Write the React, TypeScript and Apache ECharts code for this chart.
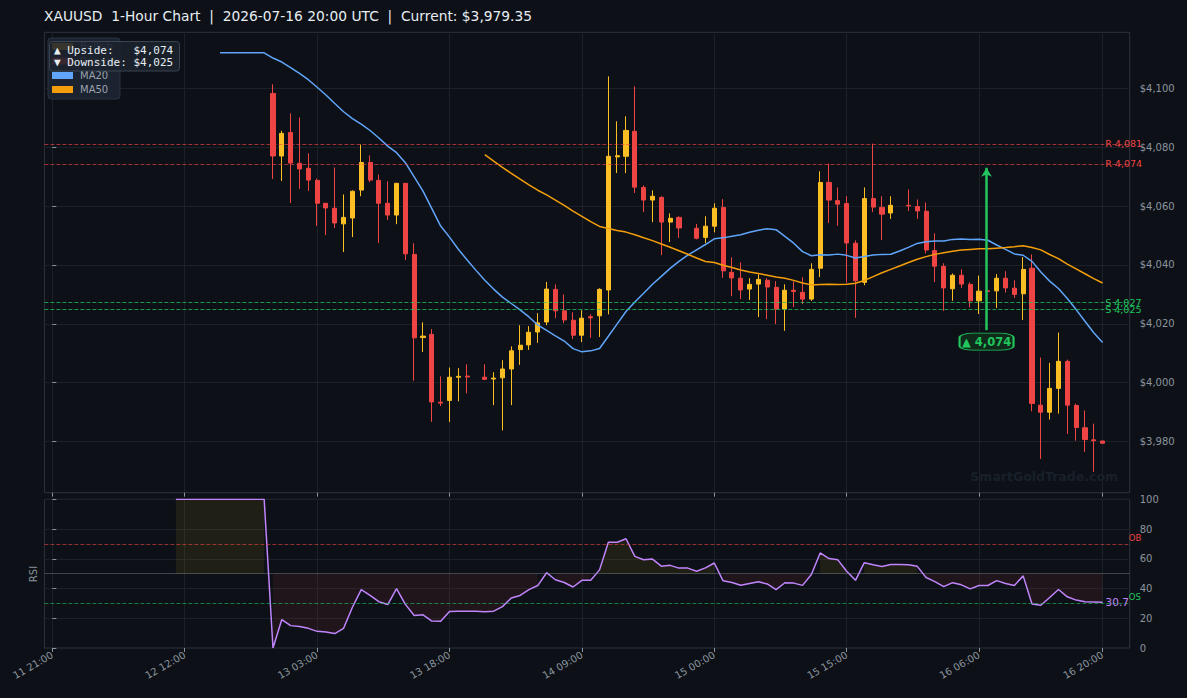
import React, { useEffect, useRef } from 'react';
import * as echarts from 'echarts';

const tickIdx = [0, 15, 30, 45, 60, 75, 90, 105, 119];
const tickLabels = ['11 21:00', '12 12:00', '13 03:00', '13 18:00', '14 09:00', '15 00:00', '15 15:00', '16 06:00', '16 20:00'];
const priceTicks = [3980, 4000, 4020, 4040, 4060, 4080, 4100];

// hourly closes, index 0 = 11 21:00
const closes = [
  4112.2, 4112.2, 4112.2, 4112.2, 4112.2, 4112.2, 4112.2, 4112.2, 4112.2, 4112.2,
  4112.2, 4112.2, 4112.2, 4112.2, 4112.2, 4112.2, 4112.2, 4112.2, 4112.2, 4112.2,
  4112.2, 4112.2, 4112.2, 4112.2, 4112.2, 4077.1, 4084.8, 4074.7, 4072.7, 4068.9,
  4061.0, 4059.4, 4054.3, 4056.2, 4065.1, 4074.9, 4068.9, 4061.0, 4057.0, 4067.8,
  4043.8, 4015.2, 4015.8, 3993.4, 3993.0, 4001.8, 4002.1, 4001.9, 4001.9, 4001.1,
  4001.5, 4004.6, 4010.8, 4012.7, 4017.1, 4020.3, 4031.8, 4024.4, 4021.3, 4016.1,
  4021.9, 4022.0, 4031.7, 4077.0, 4077.2, 4085.8, 4066.5, 4062.1, 4063.4, 4054.6,
  4055.9, 4052.6, 4052.6, 4049.1, 4053.2, 4059.3, 4038.0, 4035.6, 4031.5, 4033.4,
  4035.1, 4032.5, 4025.0, 4031.4, 4031.0, 4028.4, 4038.5, 4068.1, 4062.1, 4060.7,
  4047.5, 4034.6, 4062.6, 4059.7, 4057.3, 4060.3, 4060.3, 4060.1, 4058.4, 4045.1,
  4039.6, 4032.2, 4036.5, 4033.5, 4027.8, 4031.1, 4031.0, 4035.5, 4032.2, 4030.0,
  4038.5, 3992.9, 3989.9, 3998.0, 4007.2, 3992.3, 3984.7, 3980.6, 3980.2, 3979.35,
];
const N = null;
const opens = [
  N, N, N, N, N, N, N, N, N, N, N, N, N, N, N, N, N, N, N, N, N, N, N, N, N,
  4098.4, 4077.1, 4085.1, 4074.6, 4072.9,
  4068.8, 4061.0, 4059.3, 4054.0, 4056.0, 4065.5, 4074.9, 4068.8, 4061.0, 4057.0,
  4067.8, 4043.6, 4015.3, 4016.4, 3993.3, 3993.9, 4001.8, 4002.2, N, 4001.8,
  4001.2, 4001.6, 4004.6, 4011.2, 4012.8, 4017.2, 4020.6, 4031.7, 4024.4, 4021.2,
  4016.1, 4022.4, 4022.7, 4031.5, 4076.8, 4077.0, 4085.5, 4066.4, 4062.1, 4063.0,
  4054.6, 4056.2, N, 4052.5, 4049.4, 4053.2, 4059.6, 4037.5, 4035.5, 4031.8,
  4033.5, 4034.8, 4032.4, 4025.0, 4031.4, 4030.7, 4028.4, 4038.9, 4068.1, 4061.9,
  4060.9, 4047.4, 4034.1, 4062.6, 4059.6, 4057.7, N, 4060.3, 4059.9, 4058.3,
  4044.9, 4039.5, 4031.9, 4036.5, 4033.4, 4027.8, 4031.2, 4031.2, 4035.5, 4032.1,
  4030.2, 4038.9, 3992.3, 3989.9, 3998.0, 4007.2, 3992.2, 3984.6, 3980.5, 3980.1,
];
const highs = [
  N, N, N, N, N, N, N, N, N, N, N, N, N, N, N, N, N, N, N, N, N, N, N, N, N,
  4101.5, 4085.7, 4091.6, 4090.2, 4078.0,
  4069.4, 4061.0, 4073.2, 4064.0, 4065.4, 4081.0, 4077.3, 4070.8, 4068.5, 4067.8,
  4067.8, 4047.4, 4020.5, 4018.2, 4002.1, 4005.1, 4004.9, 4006.2, N, 4006.2,
  4003.5, 4007.6, 4012.3, 4019.5, 4019.2, 4023.6, 4034.2, 4033.4, 4030.0, 4023.9,
  4024.6, 4023.2, 4032.1, 4104.2, 4088.9, 4090.6, 4100.8, 4067.1, 4065.4, 4063.4,
  4057.6, 4056.6, N, 4054.0, 4056.6, 4061.0, 4062.4, 4042.6, 4040.9, 4035.5,
  4036.8, 4035.5, 4034.5, 4033.4, 4034.5, 4035.8, 4040.6, 4071.9, 4074.5, 4066.4,
  4063.4, 4048.4, 4066.4, 4081.3, 4063.4, 4063.4, N, 4065.7, 4062.3, 4061.3,
  4050.8, 4040.6, 4037.1, 4038.5, 4034.1, 4036.4, 4031.5, 4036.9, 4037.9, 4034.8,
  4042.7, 4043.6, 4008.5, 4006.7, 4017.0, 4007.8, 3992.8, 3990.5, 3986.0, 3980.1,
];
const lows = [
  N, N, N, N, N, N, N, N, N, N, N, N, N, N, N, N, N, N, N, N, N, N, N, N, N,
  4069.3, 4068.6, 4061.1, 4065.9, 4065.2,
  4053.3, 4050.2, 4052.6, 4044.4, 4049.5, 4063.4, 4068.2, 4047.5, 4055.3, 4053.9,
  4041.7, 4000.6, 4010.4, 3986.6, 3992.0, 3986.6, 3993.6, 3996.3, N, 4000.8,
  3992.3, 3983.7, 3992.3, 4006.0, 4011.1, 4013.5, 4019.5, 4021.9, 4020.2, 4014.8,
  4013.8, 4015.2, 4015.5, 4023.2, 4071.3, 4071.3, 4064.5, 4058.0, 4054.6, 4043.4,
  4047.8, 4049.2, N, 4048.7, 4047.4, 4051.1, 4035.6, 4029.4, 4028.4, 4028.1,
  4022.3, 4021.6, 4019.9, 4017.6, 4025.7, 4026.7, 4027.8, 4035.9, 4054.3, 4053.3,
  4034.0, 4022.0, 4033.1, 4058.0, 4048.5, 4055.7, N, 4058.4, 4055.7, 4044.0,
  4034.2, 4024.4, 4027.8, 4032.2, 4025.6, 4023.3, 4030.8, 4025.4, 4030.6, 4028.8,
  4021.3, 3990.2, 3974.0, 3987.4, 3989.4, 3982.5, 3980.2, 3976.4, 3969.6, 3979.1,
];

const resistance = [4081.2, 4074.4];
const resistanceLabels = ['R 4,081', 'R 4,074'];
const support = [4027.2, 4024.9];
const supportLabels = ['S 4,027', 'S 4,025'];
const upsideTarget = 4074;
const downsideTarget = 4025;
const arrowX = 105.85;
const arrowBase = 4017.8;

const BG = '#0d1117';
const GRIDC = '#1b2129';
const SPINE = '#2d333b';
const TXT = '#8b949e';
const FONT = 'DejaVu Sans';
const BULL = '#fbbf24';
const BEAR = '#ef4444';

function sma(c: number[], n: number) {
  return c.map((_, i) => {
    if (i < n - 1) return null;
    let s = 0;
    for (let k = i - n + 1; k <= i; k++) s += c[k];
    return s / n;
  });
}

function rsiWilder(c: number[], n: number) {
  const out: (number | null)[] = c.map(() => null);
  let ag = 0, al = 0;
  for (let i = 1; i < c.length; i++) {
    const d = c[i] - c[i - 1];
    const g = Math.max(d, 0), l = Math.max(-d, 0);
    if (i === 1) { ag = g; al = l; } else { ag = (ag * (n - 1) + g) / n; al = (al * (n - 1) + l) / n; }
    if (i >= n) out[i] = al === 0 ? 100 : 100 - 100 / (1 + ag / al);
  }
  return out;
}

const fmt = (v: number) => '$' + Math.round(v).toLocaleString('en-US');

export default function App() {
  const ref = useRef<HTMLDivElement>(null);
  useEffect(() => {
    if (!ref.current) return;
    const chart = echarts.init(ref.current, undefined, { renderer: 'svg' });
    const ma20 = sma(closes, 20);
    const ma50 = sma(closes, 50);
    const rsi = rsiWilder(closes, 14);
    const last = closes.length - 1;
    const rsiLast = rsi[last] as number;

    const candleData: any[] = [];
    closes.forEach((c, i) => {
      if (opens[i] != null) candleData.push([i, opens[i], c, lows[i], highs[i]]);
    });
    const pair = (arr: (number | null)[]) => arr.map((v, i) => [i, v]);

    const xBase = {
      type: 'value', min: -0.9, max: 122.07,
      axisLine: { show: false },
      axisTick: { show: true, customValues: tickIdx, length: 4, lineStyle: { color: TXT } },
      splitLine: { show: true, lineStyle: { color: GRIDC, width: 1 } },
    };

    const option: any = {
      animation: false,
      backgroundColor: BG,
      textStyle: { fontFamily: FONT },
      title: {
        text: 'XAUUSD  1-Hour Chart  |  2026-07-16 20:00 UTC  |  Current: $3,979.35',
        left: 44, top: 9, padding: 0,
        textStyle: { color: '#e6edf3', fontSize: 13.8, fontWeight: 'normal', fontFamily: FONT },
      },
      grid: [
        { left: 44.4, right: 57.3, top: 32.3, height: 460.4, show: true, borderColor: SPINE, borderWidth: 1, backgroundColor: 'transparent' },
        { left: 44.4, right: 57.3, top: 499.3, height: 148.7, show: true, borderColor: SPINE, borderWidth: 1, backgroundColor: 'transparent' },
      ],
      xAxis: [
        { ...xBase, gridIndex: 0, axisLabel: { show: false, customValues: tickIdx } },
        {
          ...xBase, gridIndex: 1,
          axisLabel: {
            show: true, customValues: tickIdx, rotate: 30, margin: 6, color: TXT, fontSize: 10, fontFamily: FONT,
            formatter: (v: number) => tickLabels[tickIdx.indexOf(Math.round(v))] ?? '',
          },
        },
      ],
      yAxis: [
        {
          type: 'value', gridIndex: 0, position: 'right', min: 3962.5, max: 4119.2,
          axisLine: { show: false },
          axisTick: { show: true, customValues: priceTicks, length: 4, lineStyle: { color: TXT } },
          axisLabel: { show: true, customValues: priceTicks, margin: 10, color: TXT, fontSize: 10, fontFamily: FONT, formatter: fmt },
          splitLine: { show: true, lineStyle: { color: GRIDC, width: 1 } },
        },
        {
          type: 'value', gridIndex: 1, position: 'right', min: 0, max: 100, interval: 20,
          axisLine: { show: false },
          axisTick: { show: true, length: 4, lineStyle: { color: TXT } },
          axisLabel: { show: true, margin: 10, color: TXT, fontSize: 10, fontFamily: FONT },
          splitLine: { show: true, lineStyle: { color: GRIDC, width: 1 } },
        },
      ],
      series: [
        {
          name: 'XAUUSD', type: 'candlestick', xAxisIndex: 0, yAxisIndex: 0,
          data: candleData, barWidth: 4.6,
          itemStyle: { color: BULL, color0: BEAR, borderColor: BULL, borderColor0: BEAR, borderWidth: 1 },
          markLine: {
            silent: true, symbol: ['none', 'none'], label: { show: false }, animation: false,
            data: [
              ...resistance.map((v) => ({ yAxis: v, lineStyle: { color: 'rgba(239,68,68,0.65)', type: [4, 2], width: 1 } })),
              ...support.map((v) => ({ yAxis: v, lineStyle: { color: 'rgba(34,197,94,0.75)', type: [4, 2], width: 1 } })),
              [
                { coord: [arrowX, arrowBase], symbol: 'none', lineStyle: { color: '#22c55e', width: 2.5, type: 'solid' } },
                { coord: [arrowX, upsideTarget - 0.9], symbol: 'arrow', symbolSize: [8, 9] },
              ],
            ],
          },
          markPoint: {
            silent: true, animation: false,
            data: [
              ...resistance.map((v, k) => ({
                coord: [119.3, v], symbol: 'circle', symbolSize: 0,
                label: { show: true, position: 'right', distance: 0, formatter: resistanceLabels[k], color: BEAR, fontSize: 9.5, fontFamily: FONT },
              })),
              ...support.map((v, k) => ({
                coord: [119.3, v], symbol: 'circle', symbolSize: 0,
                label: { show: true, position: 'right', distance: 0, formatter: supportLabels[k], color: '#22c55e', fontSize: 9.5, fontFamily: FONT },
              })),
              {
                coord: [arrowX, 4013.9], symbol: 'roundRect', symbolSize: [54, 17],
                itemStyle: { color: '#0f2a1b', borderColor: '#22c55e', borderWidth: 1.2 },
                label: { show: true, position: 'inside', formatter: '▲ ' + upsideTarget.toLocaleString('en-US'), color: '#22c55e', fontSize: 11.5, fontWeight: 'bold', fontFamily: FONT },
              },
            ],
          },
        },
        {
          name: 'MA20', type: 'line', xAxisIndex: 0, yAxisIndex: 0, data: pair(ma20),
          showSymbol: false, symbol: 'none', lineStyle: { color: '#60a5fa', width: 1.5 }, z: 3,
        },
        {
          name: 'MA50', type: 'line', xAxisIndex: 0, yAxisIndex: 0, data: pair(ma50),
          showSymbol: false, symbol: 'none', lineStyle: { color: '#f59e0b', width: 1.5 }, z: 3,
        },
        {
          name: 'rsiUp', type: 'line', xAxisIndex: 1, yAxisIndex: 1,
          data: pair(rsi.map((v) => (v != null && v >= 50 ? v : null))),
          showSymbol: false, symbol: 'none', lineStyle: { width: 0, opacity: 0 },
          areaStyle: { color: 'rgba(234,179,8,0.13)', origin: 50 },
        },
        {
          name: 'rsiDown', type: 'line', xAxisIndex: 1, yAxisIndex: 1,
          data: pair(rsi.map((v) => (v != null && v < 50 ? v : null))),
          showSymbol: false, symbol: 'none', lineStyle: { width: 0, opacity: 0 },
          areaStyle: { color: 'rgba(239,68,68,0.12)', origin: 50 },
        },
        {
          name: 'RSI', type: 'line', xAxisIndex: 1, yAxisIndex: 1, data: pair(rsi),
          showSymbol: false, symbol: 'none', lineStyle: { color: '#c084fc', width: 1.5 }, z: 4,
          markLine: {
            silent: true, symbol: ['none', 'none'], label: { show: false }, animation: false,
            data: [
              { yAxis: 70, lineStyle: { color: 'rgba(239,68,68,0.6)', type: [4, 2], width: 1 } },
              { yAxis: 30, lineStyle: { color: 'rgba(34,197,94,0.6)', type: [4, 2], width: 1 } },
              { yAxis: 50, lineStyle: { color: 'rgba(139,148,158,0.4)', type: 'solid', width: 1 } },
            ],
          },
          markPoint: {
            silent: true, animation: false,
            data: [
              { coord: [122.07, 70], symbol: 'circle', symbolSize: 0, label: { show: true, position: 'right', distance: 0, offset: [-1, -6], formatter: 'OB', color: BEAR, fontSize: 8.5, fontFamily: FONT } },
              { coord: [122.07, 30], symbol: 'circle', symbolSize: 0, label: { show: true, position: 'right', distance: 0, offset: [-1, -6], formatter: 'OS', color: '#22c55e', fontSize: 8.5, fontFamily: FONT } },
              { coord: [last, rsiLast], symbol: 'circle', symbolSize: 0, label: { show: true, position: 'right', distance: 3, formatter: rsiLast.toFixed(1), color: '#c084fc', fontSize: 10.5, fontFamily: FONT } },
            ],
          },
        },
      ],
      graphic: [
        { type: 'rect', z: 100, shape: { x: 48, y: 38, width: 72, height: 61, r: 3 }, style: { fill: '#1b2230', stroke: '#2a3240', lineWidth: 1 } },
        ...[
          ['Bullish', BULL, 46.5], ['Bearish', BEAR, 61], ['MA20', '#60a5fa', 75.5], ['MA50', '#f59e0b', 89.5],
        ].flatMap(([t, c, y]: any) => [
          { type: 'rect', z: 101, shape: { x: 52, y: y - 3.5, width: 21, height: 7 }, style: { fill: c } },
          { type: 'text', z: 101, x: 80, y, style: { text: t, fill: '#9ca3af', font: `10px ${FONT}`, textVerticalAlign: 'middle', verticalAlign: 'middle' } },
        ]),
        { type: 'rect', z: 110, shape: { x: 49.5, y: 41.5, width: 130, height: 29.5, r: 3 }, style: { fill: 'rgba(27,34,45,0.88)', stroke: '#3b4452', lineWidth: 1 } },
        { type: 'text', z: 111, x: 54, y: 50.8, style: { text: '▲ Upside:   ' + fmt(upsideTarget), fill: '#e6edf3', font: '11px DejaVu Sans Mono', textVerticalAlign: 'middle', verticalAlign: 'middle' } },
        { type: 'text', z: 111, x: 54, y: 62.3, style: { text: '▼ Downside: ' + fmt(downsideTarget), fill: '#e6edf3', font: '11px DejaVu Sans Mono', textVerticalAlign: 'middle', verticalAlign: 'middle' } },
        { type: 'text', z: 50, x: 33, y: 574, rotation: Math.PI / 2, style: { text: 'RSI', fill: TXT, font: `10px ${FONT}`, textAlign: 'center', align: 'center', textVerticalAlign: 'middle', verticalAlign: 'middle' } },
        { type: 'text', z: 1, x: 1118, y: 476, style: { text: 'SmartGoldTrade.com', fill: '#182029', font: `bold 12.5px ${FONT}`, textAlign: 'right', align: 'right', textVerticalAlign: 'middle', verticalAlign: 'middle' } },
      ],
    };
    chart.setOption(option);
    return () => chart.dispose();
  }, []);
  return <div ref={ref} style={{ position: 'fixed', left: 0, top: 0, width: 1187, height: 698 }} />;
}
